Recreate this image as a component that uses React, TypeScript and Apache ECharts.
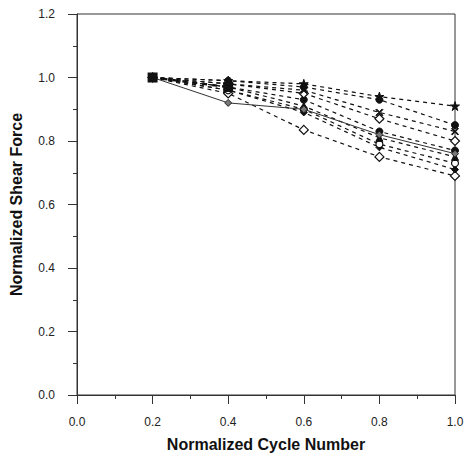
import React, { useEffect, useRef } from "react";
import * as echarts from "echarts";

const cycles = [0.2, 0.4, 0.6, 0.8, 1.0];
const xTicks = [0, 0.2, 0.4, 0.6, 0.8, 1.0];
const yTicks = [0, 0.2, 0.4, 0.6, 0.8, 1.0, 1.2];

const solidSeries = [1.0, 0.92, 0.9, 0.82, 0.76];
const dashA = [1.0, 0.99, 0.98, 0.94, 0.91];
const dashB = [1.0, 0.99, 0.97, 0.93, 0.85];
const dashC = [1.0, 0.98, 0.96, 0.89, 0.83];
const dashD = [1.0, 0.98, 0.95, 0.87, 0.8];
const dashE = [1.0, 0.97, 0.93, 0.83, 0.77];
const dashG = [1.0, 0.96, 0.9, 0.79, 0.73];
const dashH = [1.0, 0.96, 0.89, 0.78, 0.71];
const dashI = [1.0, 0.95, 0.835, 0.75, 0.69];
const dashF = [1.0, 0.97, 0.91, 0.81, 0.75];

const STAR = "path://M5,0L6.2,3.8L10,3.8L6.9,6.1L8.1,10L5,7.6L1.9,10L3.1,6.1L0,3.8L3.8,3.8Z";
const CROSS = "path://M1,0L5,4L9,0L10,1L6,5L10,9L9,10L5,6L1,10L0,9L4,5L0,1Z";

export default function App() {
  const ref = useRef<HTMLDivElement>(null);
  useEffect(() => {
    if (!ref.current) return;
    const chart = echarts.init(ref.current, null, { renderer: "svg" });
    const pts = (vals: number[]) => cycles.map((c, i) => [c, vals[i]]);
    const dashed = (vals: number[], symbol: string, filled: boolean, size = 7) => ({
      type: "line",
      data: pts(vals),
      symbol,
      symbolSize: size,
      showAllSymbol: true,
      lineStyle: { color: "#111", width: 1.2, type: [4, 4] },
      itemStyle: filled
        ? { color: "#111", borderColor: "#111", borderWidth: 1 }
        : { color: "#fff", borderColor: "#111", borderWidth: 1.2 },
      z: 3,
    });
    const axisFont = { fontFamily: "Liberation Sans, Arial, sans-serif", fontSize: 12, color: "#222" };
    const titleFont = { fontFamily: "Liberation Sans, Arial, sans-serif", fontSize: 16, fontWeight: "bold", color: "#111" };
    chart.setOption({
      animation: false,
      backgroundColor: "#fff",
      grid: { left: 74, right: 14, top: 14, bottom: 66, show: true, borderColor: "#333", borderWidth: 1 },
      xAxis: {
        type: "value",
        min: 0,
        max: 1,
        interval: 0.2,
        name: "Normalized Cycle Number",
        nameLocation: "middle",
        nameGap: 41,
        nameTextStyle: titleFont,
        axisLine: { show: true, lineStyle: { color: "#333", width: 1 } },
        axisTick: { show: true, inside: false, length: 9, lineStyle: { color: "#333" } },
        minorTick: { show: true, splitNumber: 2, length: 4, lineStyle: { color: "#333" } },
        axisLabel: { ...axisFont, margin: 21, formatter: (v: number) => (xTicks.includes(Math.round(v * 10) / 10) ? v.toFixed(1) : "") },
        splitLine: { show: false },
      },
      yAxis: {
        type: "value",
        min: 0,
        max: 1.2,
        interval: 0.2,
        name: "Normalized Shear Force",
        nameLocation: "middle",
        nameGap: 53,
        nameTextStyle: titleFont,
        axisLine: { show: true, lineStyle: { color: "#333", width: 1 } },
        axisTick: { show: true, inside: false, length: 9, lineStyle: { color: "#333" } },
        minorTick: { show: true, splitNumber: 2, length: 4, lineStyle: { color: "#333" } },
        axisLabel: { ...axisFont, margin: 22, formatter: (v: number) => (yTicks.includes(Math.round(v * 10) / 10) ? v.toFixed(1) : "") },
        splitLine: { show: false },
      },
      series: [
        {
          type: "line",
          data: pts(solidSeries),
          symbol: "diamond",
          symbolSize: 7,
          lineStyle: { color: "#333", width: 1 },
          itemStyle: { color: "#777", borderColor: "#222", borderWidth: 1 },
          z: 4,
        },
        dashed(dashI, "diamond", false, 9),
        dashed(dashH, "diamond", true),
        dashed(dashG, "circle", false),
        dashed(dashF, "triangle", true),
        dashed(dashE, "circle", true),
        dashed(dashD, "diamond", false, 9),
        dashed(dashC, CROSS, true),
        dashed(dashB, "circle", true),
        dashed(dashA, STAR, true, 9),
        {
          type: "line",
          data: pts(dashF).slice(0, 2),
          symbol: "rect",
          symbolSize: 10,
          lineStyle: { color: "#111", width: 2.5, type: [5, 5] },
          itemStyle: { color: "#111" },
          z: 5,
        },
      ],
    });
    return () => chart.dispose();
  }, []);
  return <div ref={ref} style={{ position: "fixed", left: 0, top: 0, width: 469, height: 461 }} />;
}
